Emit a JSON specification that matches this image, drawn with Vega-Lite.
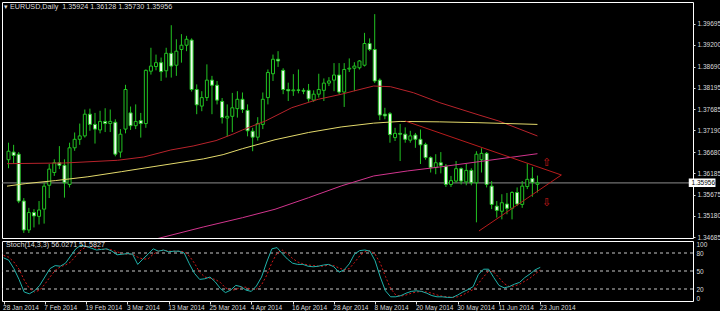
{
  "$schema": "https://vega.github.io/schema/vega-lite/v6.json",
  "background": "#000000",
  "padding": {"left": 1, "top": 1, "right": 0, "bottom": 0},
  "spacing": 3,
  "bounds": "flush",
  "config": {
    "view": {"stroke": "#ffffff", "strokeWidth": 1},
    "axis": {"domain": false, "grid": false, "title": null, "labelFont": "Liberation Sans", "labelFontSize": 6.5, "labelColor": "#dcdcdc", "tickColor": "#dcdcdc", "labelOverlap": false},
    "title": {"font": "Liberation Sans", "fontSize": 7.2, "fontWeight": "normal", "color": "#dcdcdc", "anchor": "start", "frame": "group", "baseline": "alphabetic"}
  },
  "datasets": {
    "candles": [
      {"i":0,"o":1.3650,"h":1.3690,"l":1.3630,"c":1.3670},
      {"i":1,"o":1.3668,"h":1.3685,"l":1.3640,"c":1.3660},
      {"i":2,"o":1.3663,"h":1.3668,"l":1.3548,"c":1.3553},
      {"i":3,"o":1.3553,"h":1.3560,"l":1.3478,"c":1.3485},
      {"i":4,"o":1.3485,"h":1.3537,"l":1.3478,"c":1.3526},
      {"i":5,"o":1.3526,"h":1.3534,"l":1.3491,"c":1.3518},
      {"i":6,"o":1.3517,"h":1.3553,"l":1.3498,"c":1.3532},
      {"i":7,"o":1.3534,"h":1.3596,"l":1.3500,"c":1.3588},
      {"i":8,"o":1.3590,"h":1.3640,"l":1.3560,"c":1.3628},
      {"i":9,"o":1.3620,"h":1.3651,"l":1.3612,"c":1.3643},
      {"i":10,"o":1.3643,"h":1.3682,"l":1.3628,"c":1.3637},
      {"i":11,"o":1.3637,"h":1.3651,"l":1.3561,"c":1.3596},
      {"i":12,"o":1.3592,"h":1.3690,"l":1.3585,"c":1.3678},
      {"i":13,"o":1.3678,"h":1.3714,"l":1.3671,"c":1.3698},
      {"i":14,"o":1.3698,"h":1.3735,"l":1.3685,"c":1.3706},
      {"i":15,"o":1.3706,"h":1.3768,"l":1.3702,"c":1.3757},
      {"i":16,"o":1.3757,"h":1.3770,"l":1.3718,"c":1.3733},
      {"i":17,"o":1.3733,"h":1.3760,"l":1.3688,"c":1.3722},
      {"i":18,"o":1.3720,"h":1.3765,"l":1.3712,"c":1.3740},
      {"i":19,"o":1.3740,"h":1.3771,"l":1.3715,"c":1.3735},
      {"i":20,"o":1.3735,"h":1.3768,"l":1.3715,"c":1.3740},
      {"i":21,"o":1.3738,"h":1.3745,"l":1.3658,"c":1.3663},
      {"i":22,"o":1.3668,"h":1.3722,"l":1.3655,"c":1.3710},
      {"i":23,"o":1.3722,"h":1.3826,"l":1.3712,"c":1.3815},
      {"i":24,"o":1.3760,"h":1.3775,"l":1.3720,"c":1.3730},
      {"i":25,"o":1.3730,"h":1.3780,"l":1.3722,"c":1.3740},
      {"i":26,"o":1.3742,"h":1.3760,"l":1.3702,"c":1.3735},
      {"i":27,"o":1.3735,"h":1.3862,"l":1.3725,"c":1.3860},
      {"i":28,"o":1.3858,"h":1.3913,"l":1.3850,"c":1.3870},
      {"i":29,"o":1.3869,"h":1.3897,"l":1.3860,"c":1.3878},
      {"i":30,"o":1.3878,"h":1.3890,"l":1.3835,"c":1.3857},
      {"i":31,"o":1.3859,"h":1.3913,"l":1.3843,"c":1.3900},
      {"i":32,"o":1.3900,"h":1.3966,"l":1.3843,"c":1.3870},
      {"i":33,"o":1.3872,"h":1.3933,"l":1.3847,"c":1.3905},
      {"i":34,"o":1.3909,"h":1.3945,"l":1.3878,"c":1.3919},
      {"i":35,"o":1.3919,"h":1.3941,"l":1.3905,"c":1.3933},
      {"i":36,"o":1.3931,"h":1.3935,"l":1.3810,"c":1.3815},
      {"i":37,"o":1.3815,"h":1.3827,"l":1.3757,"c":1.3779},
      {"i":38,"o":1.3776,"h":1.3811,"l":1.3764,"c":1.3796},
      {"i":39,"o":1.3796,"h":1.3874,"l":1.3788,"c":1.3837},
      {"i":40,"o":1.3837,"h":1.3847,"l":1.3757,"c":1.3825},
      {"i":41,"o":1.3825,"h":1.3835,"l":1.3780,"c":1.3790},
      {"i":42,"o":1.3787,"h":1.3795,"l":1.3735,"c":1.3749},
      {"i":43,"o":1.3748,"h":1.3780,"l":1.3705,"c":1.3752},
      {"i":44,"o":1.3752,"h":1.3807,"l":1.3715,"c":1.3772},
      {"i":45,"o":1.3770,"h":1.3811,"l":1.3749,"c":1.3792},
      {"i":46,"o":1.3792,"h":1.3808,"l":1.3760,"c":1.3768},
      {"i":47,"o":1.3766,"h":1.3780,"l":1.3705,"c":1.3718},
      {"i":48,"o":1.3717,"h":1.3725,"l":1.3670,"c":1.3703},
      {"i":49,"o":1.3703,"h":1.3750,"l":1.3695,"c":1.3735},
      {"i":50,"o":1.3733,"h":1.3808,"l":1.3722,"c":1.3792},
      {"i":51,"o":1.3796,"h":1.3862,"l":1.3780,"c":1.3855},
      {"i":52,"o":1.3852,"h":1.3897,"l":1.3835,"c":1.3886},
      {"i":53,"o":1.3886,"h":1.3905,"l":1.3868,"c":1.3882},
      {"i":54,"o":1.3860,"h":1.3865,"l":1.3804,"c":1.3815},
      {"i":55,"o":1.3815,"h":1.3831,"l":1.3788,"c":1.3812},
      {"i":56,"o":1.3812,"h":1.3851,"l":1.3800,"c":1.3814},
      {"i":57,"o":1.3814,"h":1.3862,"l":1.3806,"c":1.3813},
      {"i":58,"o":1.3813,"h":1.3818,"l":1.3804,"c":1.3811},
      {"i":59,"o":1.3813,"h":1.3828,"l":1.3786,"c":1.3793},
      {"i":60,"o":1.3790,"h":1.3813,"l":1.3786,"c":1.3804},
      {"i":61,"o":1.3804,"h":1.3852,"l":1.3796,"c":1.3815},
      {"i":62,"o":1.3813,"h":1.3841,"l":1.3788,"c":1.3830},
      {"i":63,"o":1.3830,"h":1.3844,"l":1.3823,"c":1.3835},
      {"i":64,"o":1.3837,"h":1.3877,"l":1.3811,"c":1.3849},
      {"i":65,"o":1.3849,"h":1.3877,"l":1.3804,"c":1.3809},
      {"i":66,"o":1.3809,"h":1.3877,"l":1.3774,"c":1.3862},
      {"i":67,"o":1.3863,"h":1.3888,"l":1.3856,"c":1.3865},
      {"i":68,"o":1.3865,"h":1.3879,"l":1.3811,"c":1.3870},
      {"i":69,"o":1.3866,"h":1.3884,"l":1.3862,"c":1.3882},
      {"i":70,"o":1.3872,"h":1.3948,"l":1.3869,"c":1.3923},
      {"i":71,"o":1.3923,"h":1.3935,"l":1.3905,"c":1.3909},
      {"i":72,"o":1.3909,"h":1.3992,"l":1.3830,"c":1.3835},
      {"i":73,"o":1.3837,"h":1.3841,"l":1.3743,"c":1.3755},
      {"i":74,"o":1.3757,"h":1.3772,"l":1.3745,"c":1.3753},
      {"i":75,"o":1.3758,"h":1.3762,"l":1.3690,"c":1.3709},
      {"i":76,"o":1.3702,"h":1.3725,"l":1.3694,"c":1.3712},
      {"i":77,"o":1.3712,"h":1.3734,"l":1.3647,"c":1.3710},
      {"i":78,"o":1.3710,"h":1.3726,"l":1.3690,"c":1.3698},
      {"i":79,"o":1.3696,"h":1.3718,"l":1.3690,"c":1.3706},
      {"i":80,"o":1.3708,"h":1.3713,"l":1.3678,"c":1.3698},
      {"i":81,"o":1.3698,"h":1.3721,"l":1.3640,"c":1.3685},
      {"i":82,"o":1.3686,"h":1.3690,"l":1.3650,"c":1.3655},
      {"i":83,"o":1.3655,"h":1.3658,"l":1.3620,"c":1.3632},
      {"i":84,"o":1.3632,"h":1.3663,"l":1.3616,"c":1.3643},
      {"i":85,"o":1.3643,"h":1.3668,"l":1.3618,"c":1.3637},
      {"i":86,"o":1.3634,"h":1.3640,"l":1.3586,"c":1.3592},
      {"i":87,"o":1.3592,"h":1.3612,"l":1.3586,"c":1.3601},
      {"i":88,"o":1.3600,"h":1.3647,"l":1.3596,"c":1.3629},
      {"i":89,"o":1.3629,"h":1.3632,"l":1.3592,"c":1.3600},
      {"i":90,"o":1.3598,"h":1.3640,"l":1.3590,"c":1.3625},
      {"i":91,"o":1.3625,"h":1.3630,"l":1.3590,"c":1.3596},
      {"i":92,"o":1.3596,"h":1.3670,"l":1.3503,"c":1.3663},
      {"i":93,"o":1.3650,"h":1.3677,"l":1.3620,"c":1.3665},
      {"i":94,"o":1.3665,"h":1.3668,"l":1.3585,"c":1.3592},
      {"i":95,"o":1.3588,"h":1.3600,"l":1.3534,"c":1.3545},
      {"i":96,"o":1.3541,"h":1.3553,"l":1.3514,"c":1.3531},
      {"i":97,"o":1.3529,"h":1.3569,"l":1.3510,"c":1.3549},
      {"i":98,"o":1.3546,"h":1.3572,"l":1.3522,"c":1.3536},
      {"i":99,"o":1.3536,"h":1.3576,"l":1.3510,"c":1.3573},
      {"i":100,"o":1.3573,"h":1.3585,"l":1.3541,"c":1.3546},
      {"i":101,"o":1.3545,"h":1.3600,"l":1.3537,"c":1.3588},
      {"i":102,"o":1.3587,"h":1.3641,"l":1.3581,"c":1.3604},
      {"i":103,"o":1.3606,"h":1.3633,"l":1.3563,"c":1.3597},
      {"i":104,"o":1.35924,"h":1.36128,"l":1.35730,"c":1.35956}
    ],
    "ma": [
      {"ma":"SMA 50","i":-0.3,"p":1.36408},{"ma":"SMA 50","i":11.1,"p":1.36424},{"ma":"SMA 50","i":21.4,"p":1.36487},
      {"ma":"SMA 50","i":26.6,"p":1.36565},{"ma":"SMA 50","i":31.9,"p":1.36729},{"ma":"SMA 50","i":36.3,"p":1.36823},
      {"ma":"SMA 50","i":40.8,"p":1.3695},{"ma":"SMA 50","i":44.1,"p":1.3710},{"ma":"SMA 50","i":46,"p":1.3720},
      {"ma":"SMA 50","i":50.5,"p":1.3741},{"ma":"SMA 50","i":55.7,"p":1.37723},{"ma":"SMA 50","i":60.9,"p":1.3792},
      {"ma":"SMA 50","i":65.4,"p":1.38037},{"ma":"SMA 50","i":67.9,"p":1.38115},{"ma":"SMA 50","i":71.8,"p":1.38232},
      {"ma":"SMA 50","i":75.1,"p":1.38216},{"ma":"SMA 50","i":79.6,"p":1.38075},{"ma":"SMA 50","i":84.8,"p":1.3784},
      {"ma":"SMA 50","i":92.5,"p":1.37551},{"ma":"SMA 50","i":96.4,"p":1.3741},{"ma":"SMA 50","i":104,"p":1.37058},
      {"ma":"SMA 100","i":-0.3,"p":1.3588},{"ma":"SMA 100","i":3.4,"p":1.3594},{"ma":"SMA 100","i":9.2,"p":1.3601},
      {"ma":"SMA 100","i":15.6,"p":1.3610},{"ma":"SMA 100","i":22.2,"p":1.3622},{"ma":"SMA 100","i":28.6,"p":1.3634},
      {"ma":"SMA 100","i":38.3,"p":1.3652},{"ma":"SMA 100","i":42.2,"p":1.3662},{"ma":"SMA 100","i":46,"p":1.3676},
      {"ma":"SMA 100","i":52.4,"p":1.3697},{"ma":"SMA 100","i":59,"p":1.3714},{"ma":"SMA 100","i":65.4,"p":1.3727},
      {"ma":"SMA 100","i":71.8,"p":1.3736},{"ma":"SMA 100","i":77,"p":1.3740},{"ma":"SMA 100","i":84.8,"p":1.3739},
      {"ma":"SMA 100","i":92.5,"p":1.3737},{"ma":"SMA 100","i":104,"p":1.3733},
      {"ma":"SMA 200","i":28.6,"p":1.34627},{"ma":"SMA 200","i":38.3,"p":1.34921},{"ma":"SMA 200","i":46,"p":1.35139},
      {"ma":"SMA 200","i":52.4,"p":1.35337},{"ma":"SMA 200","i":59,"p":1.35609},{"ma":"SMA 200","i":65.4,"p":1.35884},
      {"ma":"SMA 200","i":71.8,"p":1.36119},{"ma":"SMA 200","i":78.4,"p":1.36236},{"ma":"SMA 200","i":84.8,"p":1.3633},
      {"ma":"SMA 200","i":92.5,"p":1.36455},{"ma":"SMA 200","i":104,"p":1.36642}
    ],
    "trend": [
      {"line":"upper","i":78,"p":1.3741},{"line":"upper","i":108.7,"p":1.36142},
      {"line":"lower","i":92.5,"p":1.34827},{"line":"lower","i":108.7,"p":1.36142}
    ],
    "arrows": [
      {"i":105.8,"p":1.36431,"s":"⇧"},
      {"i":105.8,"p":1.35492,"s":"⇩"}
    ],
    "bid": [{"p":1.35956}],
    "stoch": [
      {"i":0,"k":72,"d":76},{"i":1,"k":68,"d":73},{"i":2,"k":54,"d":65},{"i":3,"k":36,"d":53},{"i":4,"k":15,"d":35},
      {"i":5,"k":12,"d":21},{"i":6,"k":17,"d":15},{"i":7,"k":26,"d":18},{"i":8,"k":40,"d":28},{"i":9,"k":54,"d":40},
      {"i":10,"k":59,"d":51},{"i":11,"k":58,"d":57},{"i":12,"k":63,"d":60},{"i":13,"k":75,"d":65},{"i":14,"k":87,"d":75},
      {"i":15,"k":93,"d":85},{"i":16,"k":91,"d":90},{"i":17,"k":88,"d":91},{"i":18,"k":85,"d":88},{"i":19,"k":86,"d":86},
      {"i":20,"k":87,"d":86},{"i":21,"k":83,"d":85},{"i":22,"k":77,"d":82},{"i":23,"k":78,"d":79},{"i":24,"k":79,"d":78},
      {"i":25,"k":78,"d":78},{"i":26,"k":61,"d":73},{"i":27,"k":70,"d":70},{"i":28,"k":78,"d":70},{"i":29,"k":87,"d":78},
      {"i":30,"k":83,"d":83},{"i":31,"k":85,"d":85},{"i":32,"k":82,"d":83},{"i":33,"k":83,"d":83},{"i":34,"k":83,"d":83},
      {"i":35,"k":80,"d":82},{"i":36,"k":62,"d":75},{"i":37,"k":46,"d":63},{"i":38,"k":36,"d":48},{"i":39,"k":37,"d":40},
      {"i":40,"k":40,"d":38},{"i":41,"k":32,"d":36},{"i":42,"k":21,"d":31},{"i":43,"k":14,"d":22},{"i":44,"k":18,"d":18},
      {"i":45,"k":26,"d":19},{"i":46,"k":24,"d":23},{"i":47,"k":18,"d":23},{"i":48,"k":16,"d":19},{"i":49,"k":25,"d":20},
      {"i":50,"k":40,"d":27},{"i":51,"k":65,"d":43},{"i":52,"k":87,"d":64},{"i":53,"k":89,"d":80},{"i":54,"k":79,"d":85},
      {"i":55,"k":70,"d":79},{"i":56,"k":63,"d":71},{"i":57,"k":61,"d":65},{"i":58,"k":61,"d":62},{"i":59,"k":58,"d":60},
      {"i":60,"k":57,"d":59},{"i":61,"k":58,"d":58},{"i":62,"k":60,"d":58},{"i":63,"k":61,"d":60},{"i":64,"k":57,"d":59},
      {"i":65,"k":48,"d":55},{"i":66,"k":52,"d":52},{"i":67,"k":62,"d":54},{"i":68,"k":78,"d":64},{"i":69,"k":84,"d":75},
      {"i":70,"k":85,"d":82},{"i":71,"k":83,"d":84},{"i":72,"k":67,"d":78},{"i":73,"k":40,"d":63},{"i":74,"k":17,"d":41},
      {"i":75,"k":7,"d":21},{"i":76,"k":7,"d":10},{"i":77,"k":9,"d":8},{"i":78,"k":13,"d":10},{"i":79,"k":16,"d":13},
      {"i":80,"k":17,"d":15},{"i":81,"k":16,"d":16},{"i":82,"k":13,"d":15},{"i":83,"k":9,"d":13},{"i":84,"k":7,"d":10},
      {"i":85,"k":7,"d":8},{"i":86,"k":6,"d":7},{"i":87,"k":6,"d":6},{"i":88,"k":10,"d":7},{"i":89,"k":15,"d":10},
      {"i":90,"k":19,"d":15},{"i":91,"k":24,"d":19},{"i":92,"k":44,"d":29},{"i":93,"k":53,"d":40},{"i":94,"k":53,"d":50},
      {"i":95,"k":39,"d":48},{"i":96,"k":26,"d":39},{"i":97,"k":22,"d":29},{"i":98,"k":24,"d":24},{"i":99,"k":28,"d":25},
      {"i":100,"k":31,"d":28},{"i":101,"k":39,"d":33},{"i":102,"k":45,"d":38},{"i":103,"k":52,"d":45},{"i":104,"k":56.0271,"d":51.5827}
    ]
  },
  "vconcat": [
    {
      "width": 691,
      "height": 236,
      "title": {"text": "▾ EURUSD,Daily\u00a0\u00a01.35924 1.36128 1.35730 1.35956", "offset": -8, "dx": 2},
      "layer": [
        {
          "data": {"name": "bid"},
          "mark": {"type": "rule", "color": "#8c8c8c", "strokeWidth": 1},
          "encoding": {
            "y": {"field": "p", "type": "quantitative", "scale": {"domain": [1.34662, 1.40205], "nice": false, "zero": false},
                  "axis": {"orient": "right", "values": [1.39695, 1.392, 1.3869, 1.38195, 1.37685, 1.3719, 1.3668, 1.36185, 1.35675, 1.3518, 1.34685], "tickCount": 30, "format": ".5f", "tickSize": 2, "labelPadding": 2, "labelFlush": false, "labelOverlap": false, "labelBound": false}}
          }
        },
        {
          "data": {"name": "candles"},
          "mark": {"type": "rule", "color": "#22c322", "strokeWidth": 1},
          "encoding": {
            "x": {"field": "i", "type": "quantitative", "scale": {"domain": [-0.3, 133.6], "nice": false, "zero": false}, "axis": null},
            "y": {"field": "l", "type": "quantitative", "scale": {"domain": [1.34662, 1.40205], "nice": false, "zero": false}},
            "y2": {"field": "h"}
          }
        },
        {
          "data": {"name": "candles"},
          "mark": {"type": "bar", "width": 3, "stroke": "#22c322", "strokeWidth": 1},
          "encoding": {
            "x": {"field": "i", "type": "quantitative", "scale": {"domain": [-0.3, 133.6], "nice": false, "zero": false}, "axis": null},
            "y": {"field": "o", "type": "quantitative", "scale": {"domain": [1.34662, 1.40205], "nice": false, "zero": false}},
            "y2": {"field": "c"},
            "fill": {"condition": {"test": "datum.c < datum.o", "value": "#eefcee"}, "value": "#000000"}
          }
        },
        {
          "data": {"name": "ma"},
          "mark": {"type": "line", "strokeWidth": 1, "clip": true},
          "encoding": {
            "x": {"field": "i", "type": "quantitative", "scale": {"domain": [-0.3, 133.6], "nice": false, "zero": false}, "axis": null},
            "y": {"field": "p", "type": "quantitative", "scale": {"domain": [1.34662, 1.40205], "nice": false, "zero": false}},
            "color": {"field": "ma", "type": "nominal", "scale": {"domain": ["SMA 50", "SMA 100", "SMA 200"], "range": ["#b8232b", "#e4da6c", "#d2358e"]}, "legend": null}
          }
        },
        {
          "data": {"name": "trend"},
          "mark": {"type": "line", "strokeWidth": 1, "color": "#b81c1c"},
          "encoding": {
            "x": {"field": "i", "type": "quantitative", "scale": {"domain": [-0.3, 133.6], "nice": false, "zero": false}, "axis": null},
            "y": {"field": "p", "type": "quantitative", "scale": {"domain": [1.34662, 1.40205], "nice": false, "zero": false}},
            "detail": {"field": "line"}
          }
        },
        {
          "data": {"name": "arrows"},
          "mark": {"type": "text", "font": "DejaVu Sans", "fontSize": 11, "color": "#cc1a1a", "baseline": "middle", "align": "center"},
          "encoding": {
            "x": {"field": "i", "type": "quantitative", "scale": {"domain": [-0.3, 133.6], "nice": false, "zero": false}, "axis": null},
            "y": {"field": "p", "type": "quantitative", "scale": {"domain": [1.34662, 1.40205], "nice": false, "zero": false}},
            "text": {"field": "s"}
          }
        },
        {
          "data": {"name": "bid"},
          "mark": {"type": "rect", "fill": "#ffffff", "yOffset": -4.5, "y2Offset": 4},
          "encoding": {
            "x": {"datum": 133.75, "type": "quantitative", "scale": {"domain": [-0.3, 133.6], "nice": false, "zero": false}, "axis": null},
            "x2": {"datum": 139},
            "y": {"field": "p", "type": "quantitative", "scale": {"domain": [1.34662, 1.40205], "nice": false, "zero": false}},
            "y2": {"field": "p"}
          }
        },
        {
          "data": {"name": "bid"},
          "mark": {"type": "text", "font": "Liberation Sans", "fontSize": 6.5, "color": "#000000", "align": "left", "baseline": "middle"},
          "encoding": {
            "x": {"datum": 134.3, "type": "quantitative", "scale": {"domain": [-0.3, 133.6], "nice": false, "zero": false}, "axis": null},
            "y": {"field": "p", "type": "quantitative", "scale": {"domain": [1.34662, 1.40205], "nice": false, "zero": false}},
            "text": {"field": "p", "format": ".5f"}
          }
        },
        {
          "mark": {"type": "point", "shape": "triangle-down", "filled": true, "size": 18, "color": "#a0a0a0"},
          "encoding": {
            "x": {"datum": 105.5, "type": "quantitative", "scale": {"domain": [-0.3, 133.6], "nice": false, "zero": false}, "axis": null},
            "y": {"datum": 1.4019, "type": "quantitative", "scale": {"domain": [1.34662, 1.40205], "nice": false, "zero": false}}
          }
        }
      ]
    },
    {
      "width": 691,
      "height": 60,
      "title": {"text": "Stoch(14,3,3) 56.0271 51.5827", "offset": -8, "dx": 4},
      "layer": [
        {
          "data": {"values": [{"lvl": 20}, {"lvl": 50}, {"lvl": 80}]},
          "mark": {"type": "rule", "color": "#c8c8c8", "strokeDash": [3, 3], "strokeWidth": 1},
          "encoding": {
            "y": {"field": "lvl", "type": "quantitative", "scale": {"domain": [0, 100], "nice": false},
                  "axis": {"orient": "right", "values": [0, 20, 50, 80, 100], "tickCount": 20, "tickSize": 0, "labelPadding": 3, "labelFlush": true, "labelOverlap": false}}
          }
        },
        {
          "data": {"name": "stoch"},
          "mark": {"type": "line", "color": "#d01818", "strokeDash": [2, 2], "strokeWidth": 1},
          "encoding": {
            "x": {"field": "i", "type": "quantitative", "scale": {"domain": [-0.3, 133.6], "nice": false, "zero": false},
                  "axis": {"values": [0, 8, 16, 24, 32, 40, 48, 56, 64, 72, 80, 88, 96, 104], "tickCount": 30, "labelExpr": "['28 Jan 2014','7 Feb 2014','19 Feb 2014','3 Mar 2014','13 Mar 2014','25 Mar 2014','4 Apr 2014','16 Apr 2014','28 Apr 2014','8 May 2014','20 May 2014','30 May 2014','11 Jun 2014','23 Jun 2014'][round(datum.value / 8)]", "labelAlign": "left", "labelOffset": -1, "tickSize": 3, "labelPadding": 0, "labelFlush": false, "labelOverlap": false, "labelBound": false}},
            "y": {"field": "d", "type": "quantitative", "scale": {"domain": [0, 100], "nice": false}}
          }
        },
        {
          "data": {"name": "stoch"},
          "mark": {"type": "line", "color": "#20b2aa", "strokeWidth": 1},
          "encoding": {
            "x": {"field": "i", "type": "quantitative", "scale": {"domain": [-0.3, 133.6], "nice": false, "zero": false}},
            "y": {"field": "k", "type": "quantitative", "scale": {"domain": [0, 100], "nice": false}}
          }
        }
      ]
    }
  ]
}
